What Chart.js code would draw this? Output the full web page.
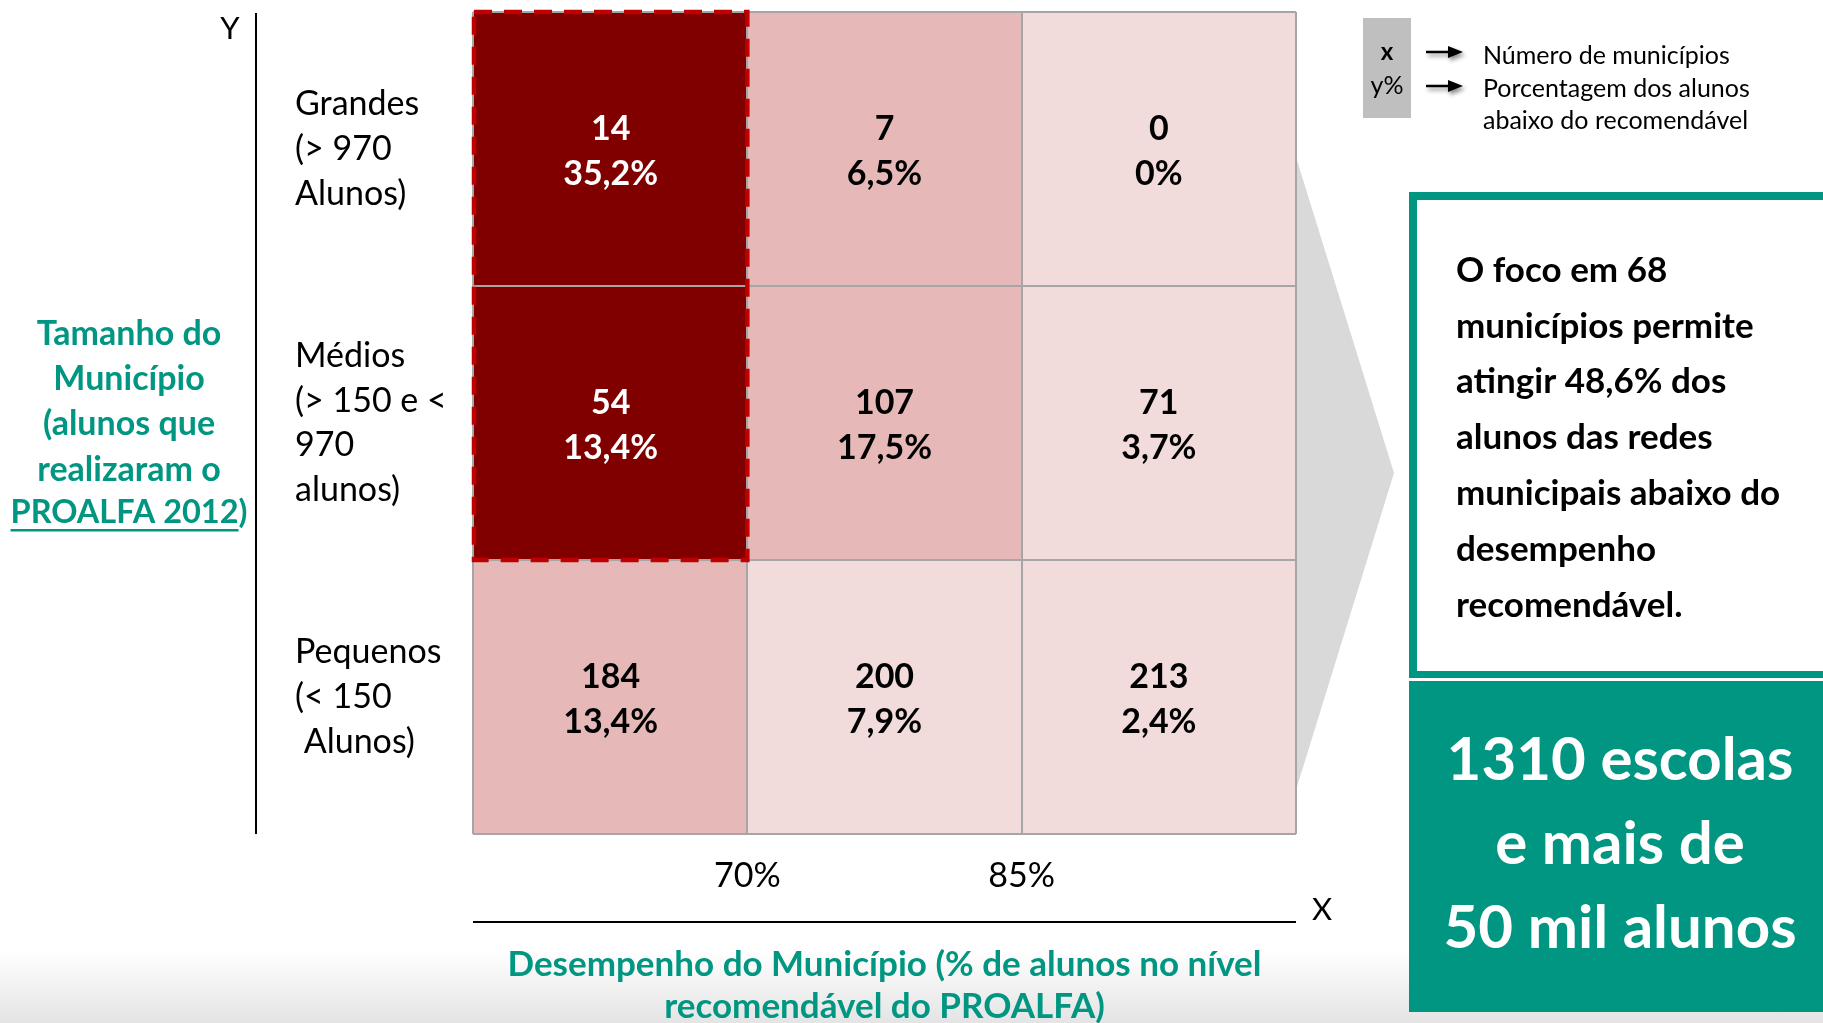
<!DOCTYPE html>
<html><head><meta charset="utf-8">
<script src="https://cdn.jsdelivr.net/npm/chart.js@4.4.1/dist/chart.umd.min.js"></script>
<style>
html,body{margin:0;padding:0;width:1823px;height:1023px;overflow:hidden;
background:linear-gradient(to bottom,#ffffff 0px,#ffffff 950px,#e4e4e4 1023px);}
#wrap{position:absolute;left:0;top:0;width:1823px;height:1023px;}
</style></head>
<body><div id="wrap"><canvas id="c"></canvas></div>
<script>
// ---- data ----
const rowLabels = [
  ['Grandes', '(> 970', 'Alunos)'],
  ['Médios', '(> 150 e <', '970', 'alunos)'],
  ['Pequenos', '(< 150', ' Alunos)']
];
const colBins = ['< 70%', '70% a 85%', '> 85%'];
const xTickLabels = ['', '70%', '85%', ''];
const municipios = [
  [14, 7, 0],
  [54, 107, 71],
  [184, 200, 213]
];
const pctAbaixo = [
  [35.2, 6.5, 0],
  [13.4, 17.5, 3.7],
  [13.4, 7.9, 2.4]
];
// 2 = foco, 1 = intermediário, 0 = baixo
const prioridade = [
  [2, 1, 0],
  [2, 1, 0],
  [1, 0, 0]
];
const yTitle = ['Tamanho do', 'Município', '(alunos que', 'realizaram o', 'PROALFA 2012)'];
const xTitle = ['Desempenho do Município (% de alunos no nível', 'recomendável do PROALFA)'];
const legendItems = ['Número de municípios', 'Porcentagem dos alunos', 'abaixo do recomendável'];
const focoTexto = ['O foco em 68', 'municípios permite', 'atingir 48,6% dos', 'alunos das redes',
  'municipais abaixo do', 'desempenho', 'recomendável.'];
const destaque = ['1310 escolas', 'e mais de', '50 mil alunos'];

// ---- style ----
const TEAL = '#009682';
const palette = ['#F2DCDB', '#E6B9B8', '#800000'];
const GRID = '#A6A6A6';
const FONT = 'Lato, "Open Sans", sans-serif';
Chart.defaults.font.family = FONT;

const fmtPct = v => (v === 0 ? '0' : v.toFixed(1).replace('.', ',')) + '%';

function txt(ctx, s, x, y, size, weight, color, align, base) {
  ctx.font = weight + ' ' + size + 'px ' + FONT;
  ctx.fillStyle = color;
  ctx.textAlign = align || 'left';
  ctx.textBaseline = base || 'middle';
  ctx.fillText(s, x, y);
}

const overlay = {
  id: 'overlay',
  beforeDatasetsDraw(chart) {
    const ctx = chart.ctx, a = chart.chartArea;
    // grey chevron
    ctx.save();
    ctx.fillStyle = '#D9D9D9';
    ctx.beginPath();
    ctx.moveTo(a.right, 157);
    ctx.lineTo(1394, 473);
    ctx.lineTo(a.right, 790);
    ctx.closePath();
    ctx.fill();
    ctx.restore();
  },
  afterDraw(chart) {
    const ctx = chart.ctx, a = chart.chartArea;
    ctx.save();
    // cell labels + focus bounds
    let fx0 = Infinity, fx1 = -Infinity, fy0 = Infinity, fy1 = -Infinity;
    colBins.forEach((c, j) => {
      const meta = chart.getDatasetMeta(j);
      meta.data.forEach((el, i) => {
        const cx = (el.x + el.base) / 2, cy = el.y;
        const col = prioridade[i][j] === 2 ? '#FFFFFF' : '#000000';
        txt(ctx, String(municipios[i][j]), cx, cy - 20, 34, 'bold', col, 'center');
        txt(ctx, fmtPct(pctAbaixo[i][j]), cx, cy + 25, 34, 'bold', col, 'center');
        if (prioridade[i][j] === 2) {
          fx0 = Math.min(fx0, el.base, el.x); fx1 = Math.max(fx1, el.base, el.x);
          fy0 = Math.min(fy0, el.y - el.height / 2); fy1 = Math.max(fy1, el.y + el.height / 2);
        }
      });
    });
    // dashed focus rectangle
    ctx.strokeStyle = '#C00000';
    ctx.lineWidth = 4.5;
    ctx.setLineDash([18, 12]);
    ctx.strokeRect(fx0, fy0, fx1 - fx0, fy1 - fy0);
    ctx.setLineDash([]);

    // axes lines
    ctx.strokeStyle = '#000';
    ctx.lineWidth = 2;
    ctx.beginPath();
    ctx.moveTo(256, 13); ctx.lineTo(256, a.bottom);
    ctx.moveTo(a.left, 922); ctx.lineTo(a.right, 922);
    ctx.stroke();
    txt(ctx, 'Y', 230, 29, 31, 'normal', '#000', 'center');
    txt(ctx, 'X', 1322, 910, 31, 'normal', '#000', 'center');

    // left (y) title
    const ys = [334, 379, 424, 470, 513];
    const ysz = [34, 34, 34, 34, 32.5];
    yTitle.forEach((s, k) => txt(ctx, s, 129, ys[k], ysz[k], 'bold', TEAL, 'center'));
    ctx.font = 'bold 32.5px ' + FONT;
    const full = ctx.measureText(yTitle[4]).width;
    const part = ctx.measureText(yTitle[4].slice(0, -1)).width;
    ctx.fillStyle = TEAL;
    ctx.fillRect(129 - full / 2, 529, part, 2.5);

    // legend
    ctx.fillStyle = '#BFBFBF';
    ctx.fillRect(1363, 18, 48, 100);
    txt(ctx, 'x', 1387, 52, 24, 'bold', '#000', 'center');
    txt(ctx, 'y%', 1387, 86, 25, 'normal', '#000', 'center');
    [52, 86].forEach(y => {
      ctx.save();
      ctx.shadowColor = 'rgba(0,0,0,0.45)';
      ctx.shadowBlur = 4; ctx.shadowOffsetX = 2; ctx.shadowOffsetY = 3;
      ctx.strokeStyle = '#000'; ctx.fillStyle = '#000'; ctx.lineWidth = 2.5;
      ctx.beginPath(); ctx.moveTo(1426, y); ctx.lineTo(1450, y); ctx.stroke();
      ctx.beginPath(); ctx.moveTo(1463, y); ctx.lineTo(1448, y - 6); ctx.lineTo(1448, y + 6); ctx.closePath(); ctx.fill();
      ctx.restore();
    });
    [56, 89, 121].forEach((y, k) => txt(ctx, legendItems[k], 1483, y, 25, 'normal', '#000', 'left'));

    // right boxes
    ctx.fillStyle = TEAL;
    ctx.fillRect(1409, 192, 1823 - 1409, 1012 - 192);
    ctx.fillStyle = '#FFFFFF';
    ctx.fillRect(1417, 200, 1823 - 1417, 671 - 200);
    ctx.fillRect(1409, 678, 1823 - 1409, 3);
    const fy = [271, 327, 382, 438, 494, 550, 606];
    focoTexto.forEach((s, k) => txt(ctx, s, 1456, fy[k], 35, 'bold', '#000', 'left'));
    const dy = [761, 845, 929];
    destaque.forEach((s, k) => txt(ctx, s, 1620, dy[k], 60, 'bold', '#FFFFFF', 'center'));
    ctx.restore();
  }
};

new Chart(document.getElementById('c'), {
  type: 'bar',
  data: {
    labels: rowLabels,
    datasets: colBins.map((c, j) => ({
      label: c,
      data: rowLabels.map(() => [j, j + 1]),
      backgroundColor: rowLabels.map((r, i) => palette[prioridade[i][j]]),
      borderWidth: 0,
      barPercentage: 1,
      categoryPercentage: 1,
      grouped: false
    }))
  },
  options: {
    indexAxis: 'y',
    responsive: true,
    maintainAspectRatio: false,
    animation: false,
    layout: { padding: { left: 295, right: 527, top: 12, bottom: 0 } },
    plugins: { legend: { display: false }, tooltip: { enabled: false } },
    scales: {
      x: {
        type: 'linear', min: 0, max: 3,
        afterFit(s) { s.height = 189; s.paddingLeft = 0; s.paddingRight = 0; },
        grid: { color: GRID, lineWidth: 2, drawTicks: false, z: 1 },
        border: { display: false },
        ticks: {
          stepSize: 1, padding: 22, color: '#000',
          font: { size: 34, family: FONT },
          callback: v => xTickLabels[v]
        },
        title: {
          display: true, text: xTitle, color: TEAL,
          font: { size: 35, weight: 'bold', family: FONT, lineHeight: 1.2 },
          padding: { top: 0, bottom: -5 }
        }
      },
      y: {
        type: 'category', offset: true,
        afterFit(s) { s.width = 178; s.paddingTop = 0; s.paddingBottom = 0; },
        grid: { color: GRID, lineWidth: 2, drawTicks: false, offset: true, z: 1 },
        border: { display: false },
        ticks: {
          crossAlign: 'far', autoSkip: false, color: '#000',
          font: { size: 34, family: FONT, lineHeight: 1.32 }
        }
      }
    }
  },
  plugins: [overlay]
});
</script>
</body></html>
